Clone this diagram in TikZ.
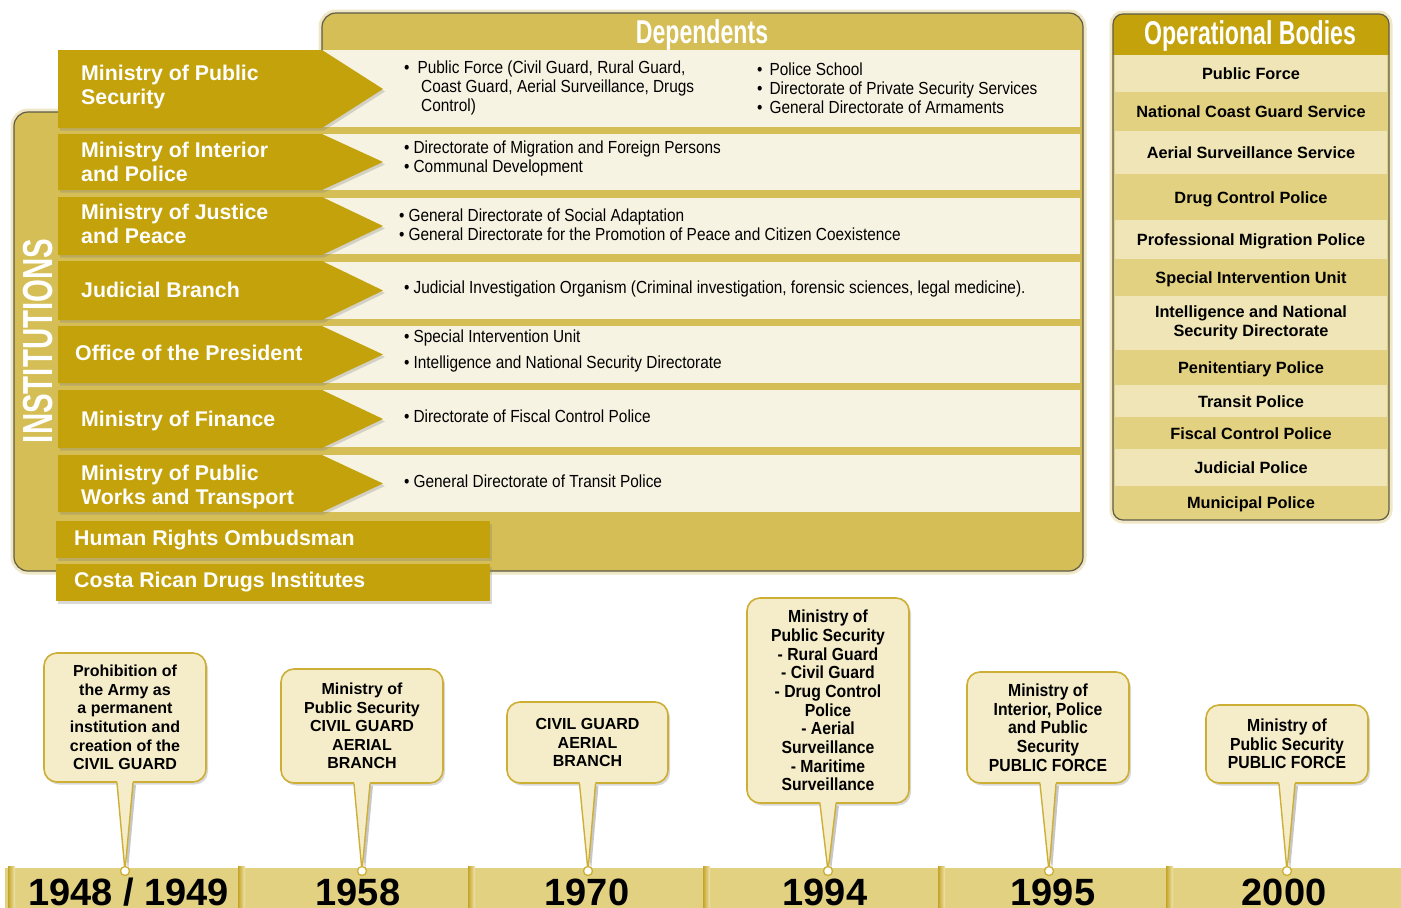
\documentclass[tikz,border=0pt]{standalone}
\usepackage{fontspec}
\setmainfont{Liberation Sans}
\newfontfamily\condf[FakeStretch=0.7]{Liberation Sans}
\newfontfamily\narrowf[FakeStretch=0.88]{Liberation Sans}
\newfontfamily\semif[FakeStretch=0.9]{Liberation Sans}
\usetikzlibrary{shadows,calc}
\definecolor{panelgold}{HTML}{D4BE55}
\definecolor{arrowgold}{HTML}{C3A20B}
\definecolor{creamrow}{HTML}{F7F3E3}
\definecolor{oplight}{HTML}{EFE5B6}
\definecolor{opdark}{HTML}{E2D181}
\definecolor{rim}{HTML}{EFE7C6}
\definecolor{darkline}{HTML}{5F5B48}
\definecolor{callfill}{HTML}{F5EDC9}
\definecolor{callline}{HTML}{CDAF35}
\definecolor{barfill}{HTML}{E1D180}
\definecolor{sepdark}{HTML}{C4A326}
\definecolor{seplight}{HTML}{EFE6B0}
\begin{document}
\begin{tikzpicture}[x=1pt,y=-1pt,
  shd/.style={drop shadow={shadow xshift=2pt,shadow yshift=-2.5pt,opacity=0.3}},
  arrowbox/.style={fill=arrowgold, shd},
  instlabel/.style={anchor=west, text=white, font=\bfseries\fontsize{21.3}{24}\selectfont, align=left, inner sep=0pt},
  deptext/.style={anchor=west, font=\narrowf\fontsize{17.5}{19}\selectfont, align=left, inner sep=0pt, text=black},
  optext/.style={font=\bfseries\fontsize{16.3}{19}\selectfont, align=center, inner sep=0pt},
  callbox/.style={draw=callline, line width=1.6pt, fill=callfill, rounded corners=13pt, inner sep=0pt, align=center, shd},
  calltext/.style={font=\bfseries\fontsize{16}{18.6}\selectfont},
  calltextn/.style={font=\semif\bfseries\fontsize{17.5}{18.7}\selectfont},
  yearlbl/.style={font=\bfseries\fontsize{38}{38}\selectfont, anchor=base, inner sep=0pt},
  headtitle/.style={font=\condf\bfseries\fontsize{33}{33}\selectfont, text=white, anchor=base, inner sep=0pt},
  tipdot/.style={circle, draw=callline, fill=white, inner sep=0pt, minimum size=9pt, line width=1.3pt},
  whitebox/.style={fill=arrowgold, shd}
]
\useasboundingbox (0,0) rectangle (1401,908);
\fill[white] (0,0) rectangle (1401,908);

% ---- Institutions / Dependents frame
\draw[rim, line width=7pt, rounded corners=14pt, shd] (14,300) -- (14,571) -- (1083,571) -- (1083,13) -- (322,13) -- (322,112) -- (14,112) -- cycle;
\fill[panelgold, rounded corners=14pt] (14,300) -- (14,571) -- (1083,571) -- (1083,13) -- (322,13) -- (322,112) -- (14,112) -- cycle;
\draw[darkline, line width=1.2pt, rounded corners=14pt] (14,300) -- (14,571) -- (1083,571) -- (1083,13) -- (322,13) -- (322,112) -- (14,112) -- cycle;

\node[headtitle] (dep) at (702,43) {Dependents};
\node[headtitle, rotate=90, anchor=center, font=\condf\bfseries\fontsize{42}{42}\selectfont] (inst) at (38,341) {INSTITUTIONS};

\foreach \a/\b in {50/127,134/190,198/254,262/319,326/383,390/447,455/512}
  \fill[creamrow] (323,\a) rectangle (1080,\b);

\foreach \a/\b in {50/128,134/190,197/255,261/320,326/383,390/448,455/512}
  \fill[arrowbox] (58,\a) -- (322,\a) -- (383,{(\a+\b)/2}) -- (322,\b) -- (58,\b) -- cycle;

\node[instlabel] (i1) at (81,87) {Ministry of Public\\Security};
\node[instlabel] (i2) at (81,162) {Ministry of Interior\\and Police};
\node[instlabel] (i3) at (81,224) {Ministry of Justice\\and Peace};
\node[instlabel, anchor=base west] (i4) at (81,297.5) {Judicial Branch};
\node[instlabel, anchor=base west] (i5) at (75,360.5) {Office of the President};
\node[instlabel, anchor=base west] (i6) at (81,426.5) {Ministry of Finance};
\node[instlabel] (i7) at (81,487) {Ministry of Public\\Works and Transport};

\node[deptext] (d1) at (404,88) {•\hspace{8pt}Public Force (Civil Guard, Rural Guard,\\\hspace*{17pt}Coast Guard, Aerial Surveillance, Drugs\\\hspace*{17pt}Control)};
\node[deptext] (d1b) at (757,88) {•\hspace{7pt}Police School\\•\hspace{7pt}Directorate of Private Security Services\\•\hspace{7pt}General Directorate of Armaments};
\node[deptext] (d2) at (404,158.5) {•\hspace{4pt}Directorate of Migration and Foreign Persons\\•\hspace{4pt}Communal Development};
\node[deptext] (d3) at (399,224.5) {•\hspace{4pt}General Directorate of Social Adaptation\\•\hspace{4pt}General Directorate for the Promotion of Peace and Citizen Coexistence};
\node[deptext, anchor=base west] (d4) at (404,293) {•\hspace{4pt}Judicial Investigation Organism (Criminal investigation, forensic sciences, legal medicine).};
\node[deptext, font=\narrowf\fontsize{17.5}{26}\selectfont] (d5) at (404,351) {•\hspace{4pt}Special Intervention Unit\\•\hspace{4pt}Intelligence and National Security Directorate};
\node[deptext, anchor=base west] (d6) at (404,422) {•\hspace{4pt}Directorate of Fiscal Control Police};
\node[deptext, anchor=base west] (d7) at (404,487) {•\hspace{4pt}General Directorate of Transit Police};

% ---- lower institution boxes
\fill[whitebox] (56,521) rectangle (490,558);
\node[instlabel, anchor=base west] (h1) at (74,545.5) {Human Rights Ombudsman};
\fill[whitebox] (56,564) rectangle (490,601);
\node[instlabel, anchor=base west] (h2) at (74,587.5) {Costa Rican Drugs Institutes};

% ---- Operational bodies panel
\draw[rim, line width=7pt, rounded corners=10pt, shd] (1113,14) rectangle (1389,520);
\begin{scope}
\clip[rounded corners=10pt] (1113,14) rectangle (1389,520);
\fill[opdark] (1113,14) rectangle (1389,520);
\fill[arrowgold] (1113,14) rectangle (1389,55);
\foreach \a/\b/\c in {55/92/oplight,92/131/opdark,131/174/oplight,174/220/opdark,220/259/oplight,259/296/opdark,296/350/oplight,350/385/opdark,385/417/oplight,417/449/opdark,449/486/oplight,486/518/opdark}
  \fill[\c] (1115,\a) rectangle (1387,\b);
\end{scope}
\draw[darkline, line width=1.2pt, rounded corners=10pt] (1113,14) rectangle (1389,520);
\node[headtitle] (ophead) at (1250,44) {Operational Bodies};
\foreach \a/\b/\t [count=\i] in {55/92/Public Force,92/131/National Coast Guard Service,131/174/Aerial Surveillance Service,174/220/Drug Control Police,220/259/Professional Migration Police,259/296/Special Intervention Unit,350/385/Penitentiary Police,385/417/Transit Police,417/449/Fiscal Control Police,449/486/Judicial Police,486/518/Municipal Police}
  \node[optext, anchor=base] (o\i) at (1251,{(\a+\b)/2+6}) {\t};
\node[optext] (o12) at (1251,323) {Intelligence and National\\Security Directorate};

% ---- timeline bar
\fill[barfill] (5,868) rectangle (1401,908);
\foreach \s in {8,238,468,703,938,1166}
  \shade[left color=sepdark, right color=seplight] (\s,866) rectangle ({\s+7},908);

\node[yearlbl] (y1) at (128.5,905) {1948 / 1949};
\node[yearlbl] (y2) at (358,905) {1958};
\node[yearlbl] (y3) at (587,905) {1970};
\node[yearlbl] (y4) at (825,905) {1994};
\node[yearlbl] (y5) at (1053,905) {1995};
\node[yearlbl] (y6) at (1284,905) {2000};

% ---- callouts
\coordinate (p1) at (125,871);
\coordinate (p2) at (362,871);
\coordinate (p3) at (588,871);
\coordinate (p4) at (828,871);
\coordinate (p5) at (1049,871);
\coordinate (p6) at (1287,871);

\node[callbox, calltext, minimum width=162pt, minimum height=129pt] (c1) at (125,717.5) {Prohibition of\\the Army as\\a permanent\\institution and\\creation of the\\CIVIL GUARD};
\node[callbox, calltext, minimum width=162pt, minimum height=114pt] (c2) at (362,726) {Ministry of\\Public Security\\CIVIL GUARD\\AERIAL\\BRANCH};
\node[callbox, calltext, minimum width=161pt, minimum height=81pt] (c3) at (587.5,742.5) {CIVIL GUARD\\AERIAL\\BRANCH};
\node[callbox, calltextn, minimum width=162pt, minimum height=205pt] (c4) at (828,700.5) {Ministry of\\Public Security\\- Rural Guard\\- Civil Guard\\- Drug Control\\Police\\- Aerial\\Surveillance\\- Maritime\\Surveillance};
\node[callbox, calltextn, minimum width=162pt, minimum height=111pt] (c5) at (1048,727.5) {Ministry of\\Interior, Police\\and Public\\Security\\PUBLIC FORCE};
\node[callbox, calltextn, minimum width=162pt, minimum height=78pt] (c6) at (1287,744) {Ministry of\\Public Security\\PUBLIC FORCE};

\foreach \i in {1,...,6}{
  \fill[black, opacity=0.22] ($(c\i.south)+(-5,2)$) -- ($(p\i)+(3,0)$) -- ($(c\i.south)+(11,2)$) -- cycle;
  \fill[callfill] ($(c\i.south)+(-8,-4)$) -- (p\i) -- ($(c\i.south)+(8,-4)$) -- cycle;
  \draw[callline, line width=1.4pt, line join=round] ($(c\i.south)+(-8,0)$) -- (p\i) -- ($(c\i.south)+(8,0)$);
  \node[tipdot] (t\i) at (p\i) {};
}
\end{tikzpicture}
\end{document}
